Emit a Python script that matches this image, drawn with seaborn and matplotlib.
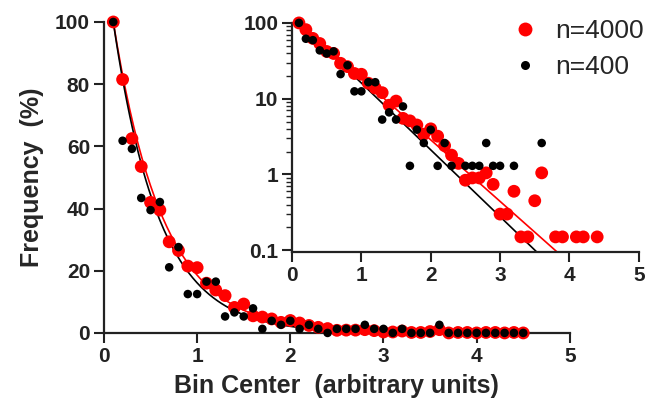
import numpy as np
import pandas as pd
import matplotlib
matplotlib.use("Agg")
import matplotlib.pyplot as plt
import seaborn as sns

# ---- data ----
bin_center = [0.1, 0.2, 0.3, 0.4, 0.5, 0.6, 0.7, 0.8, 0.9, 1.0,
              1.1, 1.2, 1.3, 1.4, 1.5, 1.6, 1.7, 1.8, 1.9, 2.0,
              2.1, 2.2, 2.3, 2.4, 2.5, 2.6, 2.7, 2.8, 2.9, 3.0,
              3.1, 3.2, 3.3, 3.4, 3.5, 3.6, 3.7, 3.8, 3.9, 4.0,
              4.1, 4.2, 4.3, 4.4, 4.5]

freq_n4000 = [100, 81.5, 62.5, 53.5, 42, 39.5, 29.3, 26.5, 21.5, 21,
              16, 13.8, 12, 8.2, 9.3, 5.5, 5.1, 4.5, 3.4, 4.0,
              3.2, 2.4, 1.8, 1.4, 0.84, 0.9, 0.9, 1.05, 0.74, 0.3,
              0.3, 0.6, 0.15, 0.15, 0.45, 1.05, 0, 0.15, 0.15, 0,
              0.15, 0.15, 0, 0.15, 0]

freq_n400 = [100, 61.8, 59.2, 43.4, 39.5, 42.1, 21.1, 27.6, 12.5, 12.5,
             16.5, 16.5, 5.3, 6.6, 5.3, 7.9, 1.3, 3.9, 2.6, 3.9,
             1.3, 2.6, 1.3, 0, 1.3, 1.3, 1.3, 2.6, 1.3, 1.3,
             0, 1.3, 0, 0, 0, 2.6, 0, 0, 0, 0,
             0, 0, 0, 0, 0]

series_labels = ["n=4000", "n=400"]
series_colors = ["#ff0000", "#000000"]

# single-exponential fit parameters (amplitude at first bin, decay rate)
fit_x0 = 0.1
fit_amp = [100, 100]
fit_rate = [1.87, 2.03]

x_ticks = [0, 1, 2, 3, 4, 5]
y_ticks_main = [0, 20, 40, 60, 80, 100]
y_ticks_inset = [0.1, 1, 10, 100]
y_ticklabels_inset = ["0.1", "1", "10", "100"]

# ---- tidy frames ----
df = pd.DataFrame({
    "x": bin_center * 2,
    "y": freq_n4000 + freq_n400,
    "series": [series_labels[0]] * len(bin_center) + [series_labels[1]] * len(bin_center),
})
xfit = np.linspace(fit_x0, max(bin_center), 300)
fit_df = pd.concat([
    pd.DataFrame({"x": xfit, "y": a * np.exp(-k * (xfit - fit_x0)), "series": lab})
    for a, k, lab in zip(fit_amp, fit_rate, series_labels)
])

sns.set_theme(style="ticks")
plt.rcParams["font.family"] = ["Liberation Sans", "DejaVu Sans"]
plt.rcParams["axes.edgecolor"] = "#222222"
plt.rcParams["xtick.color"] = "#222222"
plt.rcParams["ytick.color"] = "#222222"

fig = plt.figure(figsize=(6.58, 4.07), dpi=100)
ax = fig.add_axes([0.158, 0.182, 0.708, 0.764])
axi = fig.add_axes([0.4438, 0.381, 0.527, 0.5627])
axi.patch.set_alpha(0)

palette = dict(zip(series_labels, series_colors))
sizes = {series_labels[0]: 85, series_labels[1]: 38}


def draw(a, data, fdata):
    sns.lineplot(data=fdata, x="x", y="y", hue="series", palette=palette,
                 ax=a, legend=False, linewidth=1.2, zorder=2)
    for lab in series_labels:
        sub = data[data["series"] == lab]
        sns.scatterplot(data=sub, x="x", y="y", color=palette[lab], s=sizes[lab],
                        edgecolor="none", ax=a, zorder=3 if lab == series_labels[0] else 4,
                        clip_on=False, label=lab)


draw(ax, df, fit_df)
ax.set_xlim(0, 5)
ax.set_ylim(0, 100)
ax.set_xticks(x_ticks)
ax.set_yticks(y_ticks_main)
ax.set_xlabel("Bin Center  (arbitrary units)", fontsize=18, fontweight="bold", labelpad=6)
ax.set_ylabel("Frequency  (%)", fontsize=18, fontweight="bold", labelpad=8)
ax.get_legend().remove()

draw(axi, df[df["y"] > 0], fit_df)
axi.set_yscale("log")
axi.set_xlim(0, 5)
axi.set_ylim(0.095, 100)
axi.set_xticks(x_ticks)
axi.set_yticks(y_ticks_inset)
axi.set_yticklabels(y_ticklabels_inset)
axi.set_xlabel("")
axi.set_ylabel("")
axi.get_legend().remove()

for a in (ax, axi):
    sns.despine(ax=a)
    for sp in ("left", "bottom"):
        a.spines[sp].set_linewidth(1.6)
    a.tick_params(axis="both", which="major", length=7, width=1.5, labelsize=15, pad=3)
    for lbl in a.get_xticklabels() + a.get_yticklabels():
        lbl.set_fontweight("bold")
axi.tick_params(axis="y", which="minor", length=4, width=1.0)

# legend
handles = [
    plt.Line2D([], [], ls="none", marker="o", markersize=10, color=series_colors[0], markeredgewidth=0),
    plt.Line2D([], [], ls="none", marker="o", markersize=6.5, color=series_colors[1], markeredgewidth=0),
]
fig.legend(handles, series_labels, loc="upper left", bbox_to_anchor=(0.738, 1.012),
           frameon=False, fontsize=19, handletextpad=0.55, labelspacing=0.45,
           handlelength=1.2)

fig.savefig("out.png", dpi=100)
